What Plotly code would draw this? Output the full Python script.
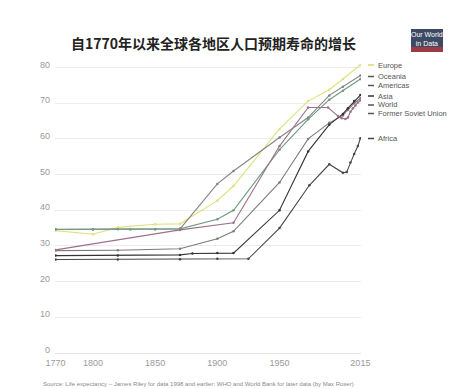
import plotly.graph_objects as go

# ---- data ----
series_names = ["Europe", "Oceania", "Americas", "Asia", "World", "Former Soviet Union", "Africa"]

europe_years = [1770, 1800, 1820, 1850, 1870, 1900, 1913, 1950, 1973, 1990, 2001, 2015]
europe_vals = [34.3, 33.3, 35.2, 36.1, 36.2, 42.7, 46.8, 62.8, 70.6, 73.8, 76.8, 80.8]

oceania_years = [1770, 1800, 1820, 1850, 1870, 1900, 1913, 1950, 1973, 1990, 2001, 2015]
oceania_vals = [34.7, 34.7, 34.7, 34.7, 34.8, 47.4, 51.0, 60.4, 66.0, 72.2, 74.6, 77.8]

americas_years = [1770, 1800, 1830, 1850, 1870, 1900, 1913, 1950, 1973, 1990, 2001, 2015]
americas_vals = [34.6, 34.6, 34.6, 34.7, 34.8, 37.5, 40.0, 57.0, 65.5, 71.0, 73.5, 76.8]

asia_years = [1770, 1820, 1870, 1880, 1900, 1913, 1950, 1973, 1990, 2001, 2005, 2010, 2015]
asia_vals = [27.3, 27.3, 27.5, 27.9, 28.0, 28.0, 40.0, 56.5, 64.0, 67.0, 68.6, 70.6, 72.3]

world_years = [1770, 1820, 1870, 1900, 1913, 1950, 1973, 1990, 2001, 2005, 2010, 2015]
world_vals = [28.7, 28.8, 29.2, 32.0, 34.1, 47.8, 60.0, 64.5, 66.6, 68.2, 70.0, 71.4]

fsu_years = [1770, 1870, 1913, 1950, 1973, 1989, 1997, 2000, 2003, 2005, 2007, 2009, 2011, 2013, 2015]
fsu_vals = [28.9, 34.5, 36.5, 58.0, 68.8, 68.8, 66.4, 65.8, 65.6, 66.0, 67.6, 68.6, 69.4, 70.2, 70.8]

africa_years = [1770, 1820, 1870, 1900, 1925, 1950, 1974, 1990, 2001, 2004, 2007, 2010, 2013, 2015]
africa_vals = [26.2, 26.2, 26.3, 26.4, 26.4, 35.0, 47.0, 52.9, 50.5, 50.7, 53.4, 55.8, 58.0, 60.2]

x_ticks = [1770, 1800, 1850, 1900, 1950, 2015]
y_ticks = [0, 10, 20, 30, 40, 50, 60, 70, 80]

label_y_px = [57, 68.5, 77.5, 88, 97, 105.5, 130.5]

title_text = "自1770年以来全球各地区人口预期寿命的增长"
source_text = "Source: Life expectancy – James Riley for data 1998 and earlier; WHO and World Bank for later data (by Max Roser)"

# ---- styling ----
colors = ["#dde27e", "#858585", "#6f9a7e", "#333333", "#7c7c7c", "#9c7089", "#474747"]
dash_colors = ["#d6dc72", "#555555", "#555555", "#333333", "#555555", "#555555", "#444444"]

W, H = 472, 389
L, R, T, B = 47, 119, 56, 44
pw, ph = W - L - R, H - T - B


def px_x(x):
    return (x - L) / pw


def px_y(y):
    return (H - B - y) / ph


data = [
    (europe_years, europe_vals),
    (oceania_years, oceania_vals),
    (americas_years, americas_vals),
    (asia_years, asia_vals),
    (world_years, world_vals),
    (fsu_years, fsu_vals),
    (africa_years, africa_vals),
]

fig = go.Figure()
order = [0, 1, 2, 4, 3, 5, 6]
for i in order:
    yrs, vals = data[i]
    fig.add_trace(go.Scatter(
        x=yrs, y=vals, mode="lines+markers", name=series_names[i],
        line=dict(color=colors[i], width=1.1),
        marker=dict(color=colors[i], size=2.5),
        showlegend=False,
    ))

annotations = []
shapes = []
for name, ly, dc in zip(series_names, label_y_px, dash_colors):
    shapes.append(dict(type="line", xref="paper", yref="paper",
                       x0=px_x(360), x1=px_x(366), y0=px_y(ly), y1=px_y(ly),
                       line=dict(color=dc, width=1.5)))
    annotations.append(dict(text=name, xref="paper", yref="paper",
                            x=px_x(368), y=px_y(ly), xanchor="left", yanchor="middle",
                            showarrow=False,
                            font=dict(family="Liberation Sans", size=7.5, color="#555555")))

annotations.append(dict(text=f"<b>{title_text}</b>", xref="paper", yref="paper",
                        x=px_x(205), y=px_y(35), xanchor="center", yanchor="middle",
                        showarrow=False,
                        font=dict(family="Noto Sans CJK SC", size=14, color="#222222")))
annotations.append(dict(text=source_text, xref="paper", yref="paper",
                        x=px_x(33), y=px_y(376), xanchor="left", yanchor="middle",
                        showarrow=False,
                        font=dict(family="Liberation Sans", size=6, color="#8a8a8a")))

# Our World in Data logo
shapes.append(dict(type="rect", xref="paper", yref="paper",
                   x0=px_x(403), x1=px_x(435), y0=px_y(39), y1=px_y(21),
                   fillcolor="#3e4a63", line=dict(width=0)))
shapes.append(dict(type="rect", xref="paper", yref="paper",
                   x0=px_x(403), x1=px_x(435), y0=px_y(44), y1=px_y(39),
                   fillcolor="#9c3a45", line=dict(width=0)))
annotations.append(dict(text="Our World<br>in Data", xref="paper", yref="paper",
                        x=px_x(419), y=px_y(31), xanchor="center", yanchor="middle",
                        showarrow=False,
                        font=dict(family="Liberation Sans", size=7, color="#ffffff")))

fig.update_layout(
    width=W, height=H,
    margin=dict(l=L, r=R, t=T, b=B),
    paper_bgcolor="white", plot_bgcolor="white",
    annotations=annotations, shapes=shapes,
    xaxis=dict(range=[1769.5, 2015.5], tickvals=x_ticks, ticktext=[str(t) for t in x_ticks],
               showgrid=False, zeroline=False, showline=False,
               ticks="outside", ticklen=1, tickcolor="rgba(0,0,0,0)",
               tickfont=dict(family="Liberation Sans", size=9, color="#999999")),
    yaxis=dict(range=[0, 81], tickvals=y_ticks, showgrid=True, gridcolor="#ececec", gridwidth=1,
               zeroline=True, zerolinecolor="#e4e4e4", zerolinewidth=1, showline=False,
               ticklabelstandoff=4, ticklabelshift=-3,
               tickfont=dict(family="Liberation Sans", size=9, color="#999999")),
)

fig.write_html("out.html")
